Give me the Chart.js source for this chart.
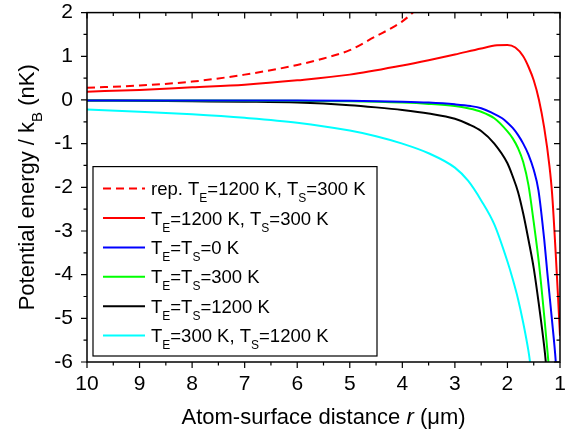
<!DOCTYPE html>
<html>
<head>
<meta charset="utf-8">
<script src="https://cdn.jsdelivr.net/npm/chart.js@4.4.0/dist/chart.umd.min.js"></script>
<style>
  html, body { margin: 0; padding: 0; background: #fff; }
</style>
</head>
<body>
<canvas id="chart" width="580" height="435"></canvas>
<script>
// Atom-surface potential
// each series: [r (um), U/kB (nK)], ordered from r = 10 down to r = 1
const repTE1200TS300 = [[10,0.28],[9,0.33],[8,0.42],[7,0.58],[6,0.80],[5.5,0.95],[5,1.14],[4.5,1.46],[4.2,1.65],[4,1.8],[3.8,2.0],[3.6,2.25]];
const TE1200TS300 = [[10,0.19],[9,0.23],[8,0.29],[7,0.35],[6,0.45],[5,0.58],[4,0.79],[3.5,0.91],[3,1.04],[2.5,1.18],[2.2,1.25],[2,1.26],[1.85,1.2],[1.7,1.0],[1.6,0.76],[1.5,0.45],[1.4,0.0],[1.3,-0.64],[1.2,-1.52],[1.15,-2.15],[1.08,-3.55],[1.04,-4.45],[1.0,-5.4]];
const TE0TS0 = [[10,-0.01],[8,-0.01],[6,-0.01],[5,-0.02],[4,-0.04],[3.5,-0.06],[3,-0.1],[2.7,-0.14],[2.5,-0.19],[2.3,-0.29],[2.1,-0.42],[2,-0.52],[1.9,-0.64],[1.8,-0.8],[1.7,-1.0],[1.6,-1.25],[1.5,-1.6],[1.41,-2.07],[1.3,-3.2],[1.24,-3.97],[1.16,-4.95],[1.08,-6.0],[1.06,-6.4]];
const TE300TS300 = [[10,-0.01],[8,-0.01],[6,-0.02],[5,-0.03],[4,-0.06],[3.5,-0.09],[3,-0.14],[2.75,-0.19],[2.5,-0.27],[2.25,-0.42],[2,-0.72],[1.9,-0.88],[1.8,-1.1],[1.7,-1.42],[1.6,-1.95],[1.5,-2.8],[1.4,-3.75],[1.3,-4.95],[1.22,-6.0],[1.2,-6.3]];
const TE1200TS1200 = [[10,-0.01],[9,-0.02],[8,-0.03],[7,-0.04],[6,-0.06],[5,-0.12],[4.5,-0.17],[4,-0.23],[3.5,-0.31],[3,-0.43],[2.75,-0.55],[2.5,-0.71],[2.25,-1.0],[2,-1.45],[1.9,-1.75],[1.8,-2.1],[1.7,-2.6],[1.6,-3.2],[1.5,-3.85],[1.4,-4.7],[1.3,-5.65],[1.27,-6.0],[1.25,-6.3]];
const TE300TS1200 = [[10,-0.22],[9,-0.27],[8,-0.33],[7,-0.41],[6,-0.52],[5,-0.7],[4.5,-0.83],[4,-1.0],[3.5,-1.22],[3,-1.55],[2.75,-1.85],[2.5,-2.3],[2.25,-2.85],[2,-3.7],[1.9,-4.1],[1.8,-4.55],[1.7,-5.1],[1.6,-5.75],[1.57,-6.0],[1.55,-6.2]];

// legend text, _{..} marks a subscript
const seriesLabels = [
  'rep. T_{E}=1200 K, T_{S}=300 K',
  'T_{E}=1200 K, T_{S}=300 K',
  'T_{E}=T_{S}=0 K',
  'T_{E}=T_{S}=300 K',
  'T_{E}=T_{S}=1200 K',
  'T_{E}=300 K, T_{S}=1200 K'
];
const seriesColors = ['#ff0000', '#ff0000', '#0000ff', '#00ff00', '#000000', '#00ffff'];
const seriesDash = [[8, 5], [], [], [], [], []];
const seriesData = [repTE1200TS300, TE1200TS300, TE0TS0, TE300TS300, TE1200TS1200, TE300TS1200];

const xTickValues = [1, 2, 3, 4, 5, 6, 7, 8, 9, 10];
const yTickValues = [-6, -5, -4, -3, -2, -1, 0, 1, 2];
const xTitle = 'Atom-surface distance *r* (\u03bcm)';
const yTitle = 'Potential energy / k_{B} (nK)';

const FONT = '"Liberation Sans", Arial, Helvetica, sans-serif';

// split 'a_{b}c*d*' into styled pieces
function parseRich(str) {
  const segs = [];
  const re = /_\{([^}]*)\}|\*([^*]*)\*|([^_*]+)/g;
  let m;
  while ((m = re.exec(str)) !== null) {
    if (m[1] !== undefined) segs.push({ t: m[1], sub: true });
    else if (m[2] !== undefined) segs.push({ t: m[2], it: true });
    else segs.push({ t: m[3] });
  }
  return segs;
}

function segFont(s, size) {
  const sz = s.sub ? Math.round(size * 0.66) : size;
  return (s.it ? 'italic ' : '') + sz + 'px ' + FONT;
}

function richWidth(ctx, segs, size) {
  let w = 0;
  segs.forEach(s => { ctx.font = segFont(s, size); w += ctx.measureText(s.t).width; });
  return w;
}

function drawRich(ctx, segs, x, y, size) {
  ctx.textBaseline = 'alphabetic';
  ctx.textAlign = 'left';
  segs.forEach(s => {
    ctx.font = segFont(s, size);
    ctx.fillText(s.t, x, s.sub ? y + size * 0.38 : y);
    x += ctx.measureText(s.t).width;
  });
}

// frame, inner/outer tick marks, axis titles and the boxed legend
const decorPlugin = {
  id: 'decor',
  afterDatasetsDraw(chart) {
    const { ctx, chartArea: a, scales: { x, y } } = chart;
    ctx.save();
    ctx.strokeStyle = '#000';
    ctx.fillStyle = '#000';
    ctx.lineWidth = 1.5;
    ctx.strokeRect(a.left, a.top, a.right - a.left, a.bottom - a.top);

    ctx.lineWidth = 1.2;
    ctx.beginPath();
    for (let v = x.min; v <= x.max + 1e-9; v += 0.5) {
      const px = x.getPixelForValue(v);
      const len = Number.isInteger(v) ? 6 : 3.5;
      ctx.moveTo(px, a.bottom); ctx.lineTo(px, a.bottom + len);
      ctx.moveTo(px, a.top); ctx.lineTo(px, a.top + len);
    }
    for (let v = y.min; v <= y.max + 1e-9; v += 0.5) {
      const py = y.getPixelForValue(v);
      const len = Number.isInteger(v) ? 6 : 3.5;
      ctx.moveTo(a.left, py); ctx.lineTo(a.left - len, py);
      ctx.moveTo(a.right, py); ctx.lineTo(a.right - len, py);
    }
    ctx.stroke();

    // axis titles
    const xs = parseRich(xTitle);
    const xw = richWidth(ctx, xs, 22);
    drawRich(ctx, xs, (a.left + a.right) / 2 - xw / 2, 424, 22);

    const ys = parseRich(yTitle);
    const yw = richWidth(ctx, ys, 22);
    ctx.save();
    ctx.translate(34, (a.top + a.bottom) / 2);
    ctx.rotate(-Math.PI / 2);
    drawRich(ctx, ys, -yw / 2, 0, 22);
    ctx.restore();

    // legend
    const lx = a.left + 6, ly = a.top + 154;
    const lw = 284, lh = a.bottom - 6 - ly;
    ctx.fillStyle = '#fff';
    ctx.fillRect(lx, ly, lw, lh);
    ctx.lineWidth = 1.2;
    ctx.strokeRect(lx, ly, lw, lh);
    seriesLabels.forEach((label, i) => {
      const ry = ly + 22 + i * 29.4;
      ctx.beginPath();
      ctx.strokeStyle = seriesColors[i];
      ctx.lineWidth = 2;
      ctx.setLineDash(seriesDash[i]);
      ctx.moveTo(lx + 10, ry);
      ctx.lineTo(lx + 52, ry);
      ctx.stroke();
      ctx.setLineDash([]);
      ctx.fillStyle = '#000';
      drawRich(ctx, parseRich(label), lx + 58, ry + 6.5, 18.5);
    });
    ctx.restore();
  }
};

// invisible tick marks only reserve the gap between axis and labels
const hiddenGrid = len => ({
  display: true,
  drawOnChartArea: false,
  drawTicks: true,
  tickLength: len,
  color: 'rgba(0,0,0,0)'
});

const ctx = document.getElementById('chart').getContext('2d');
new Chart(ctx, {
  type: 'line',
  data: {
    datasets: seriesData.map((pts, i) => ({
      label: seriesLabels[i],
      data: pts.map(p => ({ x: p[0], y: p[1] })),
      borderColor: seriesColors[i],
      borderDash: seriesDash[i],
      borderWidth: 2,
      pointRadius: 0,
      fill: false,
      cubicInterpolationMode: 'monotone'
    }))
  },
  options: {
    responsive: false,
    animation: false,
    layout: { padding: { top: 0, right: 20, left: 0, bottom: 0 } },
    plugins: {
      legend: { display: false },
      tooltip: { enabled: false }
    },
    scales: {
      x: {
        type: 'linear',
        reverse: true,
        min: 1,
        max: 10,
        grid: hiddenGrid(10),
        border: { display: false },
        afterBuildTicks: s => { s.ticks = xTickValues.map(v => ({ value: v })); },
        afterFit: s => { s.height = 73; },
        ticks: {
          autoSkip: false,
          maxRotation: 0,
          padding: 0,
          color: '#000',
          font: { family: FONT, size: 21 },
          callback: v => String(v)
        }
      },
      y: {
        min: -6,
        max: 2,
        grid: hiddenGrid(14),
        border: { display: false },
        afterBuildTicks: s => { s.ticks = yTickValues.map(v => ({ value: v })); },
        afterFit: s => { s.width = 87; },
        ticks: {
          padding: 0,
          color: '#000',
          font: { family: FONT, size: 21 },
          callback: v => String(v)
        }
      }
    }
  },
  plugins: [decorPlugin]
});
</script>
</body>
</html>
